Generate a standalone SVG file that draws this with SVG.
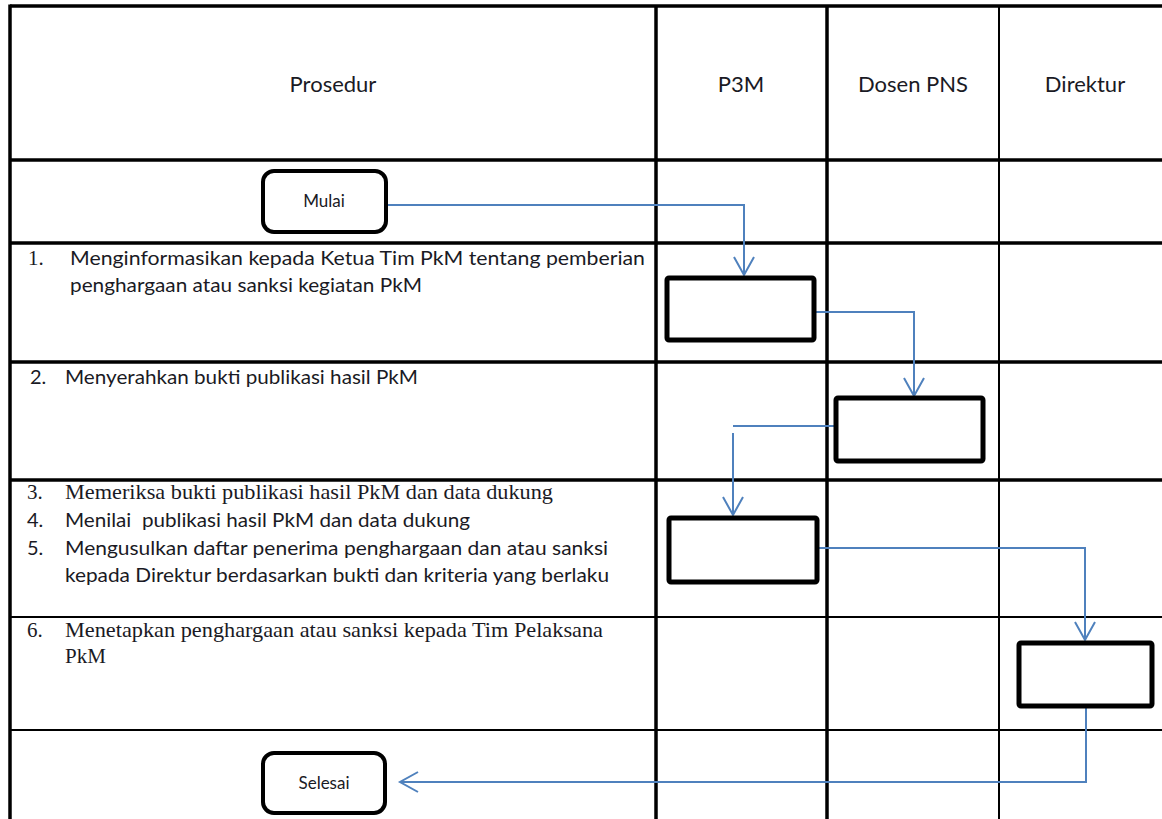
<svg xmlns="http://www.w3.org/2000/svg" width="1162" height="819" viewBox="0 0 1162 819">
  <style>
    .grid-thick { stroke: #000; stroke-width: 3.5; }
    .grid-thin { stroke: #000; stroke-width: 2; }
    .term { fill: #fff; stroke: #000; stroke-width: 4; }
    .act { fill: #fff; stroke: #000; stroke-width: 5; }
    .flow { fill: none; stroke: #4f81bd; stroke-width: 2; }
    .head { font-family: Lato, "Open Sans", sans-serif; font-size: 22px; fill: #1a1a24; text-anchor: middle; }
    .lbl { font-family: Lato, "Open Sans", sans-serif; font-size: 17px; fill: #1a1a24; text-anchor: middle; }
    .s { font-family: Lato, "Open Sans", sans-serif; font-size: 20px; fill: #1a1a24; white-space: pre; }
    .r { font-family: "Liberation Serif", serif; font-size: 21px; fill: #1a1a24; }
  </style>
  <defs>
    <marker id="open-arrow" markerWidth="24" markerHeight="24" refX="20" refY="12" orient="auto" markerUnits="userSpaceOnUse">
      <path d="M2,2 L20,12 L2,22" fill="none" stroke="#4f81bd" stroke-width="2"/>
    </marker>
  </defs>

  <rect width="1162" height="819" fill="#fff"/>

  <!-- table grid -->
  <g id="grid">
    <line class="grid-thick" x1="10" y1="6" x2="1162" y2="6"/>
    <line class="grid-thick" x1="10" y1="4.5" x2="10" y2="819"/>
    <line class="grid-thick" x1="10" y1="160" x2="1162" y2="160"/>
    <line class="grid-thick" x1="10" y1="243" x2="1162" y2="243"/>
    <line class="grid-thick" x1="10" y1="362" x2="1162" y2="362"/>
    <line class="grid-thick" x1="10" y1="480" x2="1162" y2="480"/>
    <line class="grid-thin" x1="10" y1="617" x2="1162" y2="617"/>
    <line class="grid-thin" x1="10" y1="730" x2="1162" y2="730"/>
    <line class="grid-thick" x1="656" y1="6" x2="656" y2="819"/>
    <line class="grid-thick" x1="827" y1="6" x2="827" y2="819"/>
    <line class="grid-thin" x1="999" y1="6" x2="999" y2="819"/>
  </g>

  <!-- column headers -->
  <g id="headers">
    <text class="head" x="333" y="92">Prosedur</text>
    <text class="head" x="741" y="92">P3M</text>
    <text class="head" x="913" y="92">Dosen PNS</text>
    <text class="head" x="1085" y="92">Direktur</text>
  </g>

  <!-- procedure steps -->
  <g id="steps">
    <text class="r" x="28" y="265">1.</text>
    <text class="s" x="70" y="265" textLength="575" lengthAdjust="spacingAndGlyphs">Menginformasikan kepada Ketua Tim PkM tentang pemberian</text>
    <text class="s" x="70" y="292" textLength="352" lengthAdjust="spacingAndGlyphs">penghargaan atau sanksi kegiatan PkM</text>

    <text class="s" x="30" y="384">2.</text>
    <text class="s" x="65" y="384" textLength="353" lengthAdjust="spacingAndGlyphs">Menyerahkan bukti publikasi hasil PkM</text>

    <text class="r" x="27" y="499">3.</text>
    <text class="r" x="65" y="499" textLength="488" lengthAdjust="spacingAndGlyphs">Memeriksa bukti publikasi hasil PkM dan data dukung</text>
    <text class="s" x="27" y="527">4.</text>
    <text class="s" x="65" y="527" textLength="405" lengthAdjust="spacingAndGlyphs" xml:space="preserve">Menilai  publikasi hasil PkM dan data dukung</text>
    <text class="s" x="27" y="555">5.</text>
    <text class="s" x="65" y="555" textLength="543" lengthAdjust="spacingAndGlyphs">Mengusulkan daftar penerima penghargaan dan atau sanksi</text>
    <text class="s" x="65" y="582" textLength="544" lengthAdjust="spacingAndGlyphs">kepada Direktur berdasarkan bukti dan kriteria yang berlaku</text>

    <text class="r" x="27" y="637">6.</text>
    <text class="r" x="65" y="637" textLength="538" lengthAdjust="spacingAndGlyphs">Menetapkan penghargaan atau sanksi kepada Tim Pelaksana</text>
    <text class="r" x="65" y="663">PkM</text>
  </g>

  <!-- connectors -->
  <g id="connectors">
    <path class="flow" d="M386,205 H744 V275" marker-end="url(#open-arrow)"/>
    <path class="flow" d="M814,312 H914 V396" marker-end="url(#open-arrow)"/>
    <path class="flow" d="M836,426 H733"/>
    <path class="flow" d="M733,433 V515" marker-end="url(#open-arrow)"/>
    <path class="flow" d="M817,548 H1085 V640" marker-end="url(#open-arrow)"/>
    <path class="flow" d="M1086,706 V782 H400" marker-end="url(#open-arrow)"/>
  </g>

  <!-- nodes -->
  <g id="node-mulai">
    <rect class="term" x="263" y="171" width="123" height="61" rx="11"/>
    <text class="lbl" x="324" y="207">Mulai</text>
  </g>
  <g id="node-informasi">
    <rect class="act" x="667" y="278" width="147" height="62" rx="2"/>
  </g>
  <g id="node-serah-bukti">
    <rect class="act" x="836" y="398" width="147" height="63" rx="2"/>
  </g>
  <g id="node-periksa">
    <rect class="act" x="669" y="518" width="148" height="64" rx="2"/>
  </g>
  <g id="node-tetapkan">
    <rect class="act" x="1019" y="643" width="133" height="63" rx="2"/>
  </g>
  <g id="node-selesai">
    <rect class="term" x="263" y="753" width="122" height="60" rx="11"/>
    <text class="lbl" x="324" y="789">Selesai</text>
  </g>
</svg>
